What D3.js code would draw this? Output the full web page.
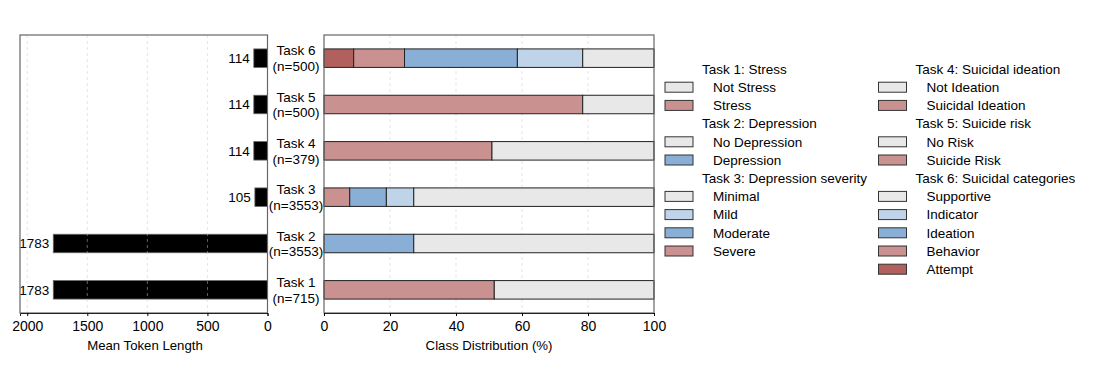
<!DOCTYPE html>
<html lang="en">
<head>
  <meta charset="UTF-8">
  <title>Task overview</title>
  <script src="https://d3js.org/d3.v7.min.js"></script>
  <style>
    body { margin: 0; background: #fff; font-family: "Liberation Sans", Arial, sans-serif; }
    text { font-family: "Liberation Sans", Arial, sans-serif; fill: #000; }
    .grid line { stroke: #ccc; stroke-dasharray: 3,3; stroke-width: 0.8; opacity: 0.6; }
    .frame { fill: none; stroke: #666; stroke-width: 1.2; }
  </style>
</head>
<body>
  <svg id="chart" width="1120" height="380"></svg>

  <script>
    // tasks, top to bottom
    const tasks = ["Task 6", "Task 5", "Task 4", "Task 3", "Task 2", "Task 1"];
    const sizes = ["(n=500)", "(n=500)", "(n=379)", "(n=3553)", "(n=3553)", "(n=715)"];
    const tokenLength = [114, 114, 114, 105, 1783, 1783];

    // class shares in %, left to right in the stacked bar
    const task6 = [["Attempt", 9.0], ["Behavior", 15.4], ["Ideation", 34.2], ["Indicator", 19.8], ["Supportive", 21.6]];
    const task5 = [["Suicide Risk", 78.4], ["No Risk", 21.6]];
    const task4 = [["Suicidal Ideation", 50.9], ["Not Ideation", 49.1]];
    const task3 = [["Severe", 7.8], ["Moderate", 11.1], ["Mild", 8.3], ["Minimal", 72.8]];
    const task2 = [["Depression", 27.2], ["No Depression", 72.8]];
    const task1 = [["Stress", 51.6], ["Not Stress", 48.4]];
    const shares = [task6, task5, task4, task3, task2, task1];

    const lengthTicks = [2000, 1500, 1000, 500, 0];
    const pctTicks = [0, 20, 40, 60, 80, 100];

    const classColor = {
      "Not Stress": "#e8e8e8", "Stress": "#c9918f",
      "No Depression": "#e8e8e8", "Depression": "#8aafd6",
      "Minimal": "#e8e8e8", "Mild": "#bfd4e8", "Moderate": "#8aafd6", "Severe": "#c9918f",
      "Not Ideation": "#e8e8e8", "Suicidal Ideation": "#c9918f",
      "No Risk": "#e8e8e8", "Suicide Risk": "#c9918f",
      "Supportive": "#e8e8e8", "Indicator": "#bfd4e8", "Ideation": "#8aafd6",
      "Behavior": "#c9918f", "Attempt": "#b2605e"
    };

    // legend groups (column 1 then column 2)
    const legendCols = [
      [["Task 1: Stress", ["Not Stress", "Stress"]],
       ["Task 2: Depression", ["No Depression", "Depression"]],
       ["Task 3: Depression severity", ["Minimal", "Mild", "Moderate", "Severe"]]],
      [["Task 4: Suicidal ideation", ["Not Ideation", "Suicidal Ideation"]],
       ["Task 5: Suicide risk", ["No Risk", "Suicide Risk"]],
       ["Task 6: Suicidal categories", ["Supportive", "Indicator", "Ideation", "Behavior", "Attempt"]]]
    ];

    const svg = d3.select("#chart");
    const yTop = 35, yBot = 313;
    const fs = "13.5px";
    const tickFs = "14px";

    const y = d3.scalePoint().domain(tasks).range([yTop, yBot]).padding(0.5);
    const barH = 18.5;

    // ---------- left panel: mean token length ----------
    const xL = d3.scaleLinear().domain([0, 2060]).range([267.5, 20]);
    const left = svg.append("g");

    left.selectAll(".bar")
      .data(tasks)
      .enter().append("rect")
      .attr("x", (d, i) => xL(tokenLength[i]))
      .attr("y", d => y(d) - barH / 2)
      .attr("width", (d, i) => xL(0) - xL(tokenLength[i]))
      .attr("height", barH)
      .attr("fill", "#000")
      .attr("stroke", "#666")
      .attr("stroke-width", 0.8);

    left.append("g").attr("class", "grid")
      .selectAll("line")
      .data(lengthTicks.filter(t => t > 0))
      .enter().append("line")
      .attr("x1", d => xL(d)).attr("x2", d => xL(d))
      .attr("y1", yTop).attr("y2", yBot);

    left.selectAll(".val")
      .data(tasks)
      .enter().append("text")
      .attr("x", (d, i) => xL(tokenLength[i]) - 4)
      .attr("y", d => y(d))
      .attr("dy", "0.35em")
      .attr("text-anchor", "end")
      .style("font-size", fs)
      .text((d, i) => tokenLength[i]);

    left.append("rect").attr("class", "frame")
      .attr("x", 20).attr("y", yTop).attr("width", 247.5).attr("height", yBot - yTop);

    left.append("g")
      .attr("transform", `translate(0,${yBot})`)
      .call(d3.axisBottom(xL).tickValues(lengthTicks).tickFormat(d3.format("d")).tickSize(3).tickPadding(5))
      .call(g => g.select(".domain").attr("stroke", "#222"))
      .call(g => g.selectAll("text").style("font-size", tickFs).style("font-family", "Liberation Sans, Arial, sans-serif"));

    left.append("text")
      .attr("x", 145).attr("y", 350)
      .attr("text-anchor", "middle")
      .style("font-size", "13.2px")
      .text("Mean Token Length");

    // task labels between panels
    const labels = svg.append("g");
    labels.selectAll(".t1")
      .data(tasks)
      .enter().append("text")
      .attr("x", 296).attr("y", d => y(d) - 7.5)
      .attr("dy", "0.35em")
      .attr("text-anchor", "middle")
      .style("font-size", fs)
      .text(d => d);
    labels.selectAll(".t2")
      .data(tasks)
      .enter().append("text")
      .attr("x", 296).attr("y", d => y(d) + 8)
      .attr("dy", "0.35em")
      .attr("text-anchor", "middle")
      .style("font-size", fs)
      .text((d, i) => sizes[i]);

    // ---------- right panel: class distribution ----------
    const xR = d3.scaleLinear().domain([0, 100]).range([324, 654]);
    const right = svg.append("g");

    right.append("g").attr("class", "grid")
      .selectAll("line")
      .data(pctTicks.filter(t => t > 0 && t < 100))
      .enter().append("line")
      .attr("x1", d => xR(d)).attr("x2", d => xR(d))
      .attr("y1", yTop).attr("y2", yBot);

    tasks.forEach((task, i) => {
      let acc = 0;
      const segs = shares[i].map(([name, v]) => {
        const s = { name, x0: acc, x1: acc + v };
        acc += v;
        return s;
      });
      right.selectAll(null)
        .data(segs)
        .enter().append("rect")
        .attr("x", d => xR(d.x0))
        .attr("y", y(task) - barH / 2)
        .attr("width", d => xR(d.x1) - xR(d.x0))
        .attr("height", barH)
        .attr("fill", d => classColor[d.name])
        .attr("stroke", "#222")
        .attr("stroke-width", 1);
    });

    right.append("rect").attr("class", "frame")
      .attr("x", 324).attr("y", yTop).attr("width", 330).attr("height", yBot - yTop);

    right.append("g")
      .attr("transform", `translate(0,${yBot})`)
      .call(d3.axisBottom(xR).tickValues(pctTicks).tickSize(3).tickPadding(5))
      .call(g => g.select(".domain").attr("stroke", "#222"))
      .call(g => g.selectAll("text").style("font-size", tickFs).style("font-family", "Liberation Sans, Arial, sans-serif"));

    right.append("text")
      .attr("x", 489).attr("y", 350)
      .attr("text-anchor", "middle")
      .style("font-size", "13.2px")
      .text("Class Distribution (%)");

    // ---------- legend ----------
    const legend = svg.append("g");
    const colX = [665, 878.5];
    const rowH = 18.2;
    legendCols.forEach((col, c) => {
      let row = 0;
      col.forEach(([title, items]) => {
        legend.append("text")
          .attr("x", colX[c] + 37).attr("y", 69 + row * rowH)
          .attr("dy", "0.35em")
          .style("font-size", fs)
          .text(title);
        row++;
        items.forEach(name => {
          const cy = 69 + row * rowH;
          legend.append("rect")
            .attr("x", colX[c]).attr("y", cy - 5)
            .attr("width", 28).attr("height", 10)
            .attr("fill", classColor[name])
            .attr("stroke", "#333").attr("stroke-width", 1);
          legend.append("text")
            .attr("x", colX[c] + 48).attr("y", cy)
            .attr("dy", "0.35em")
            .style("font-size", fs)
            .text(name);
          row++;
        });
      });
    });
  </script>
</body>
</html>
